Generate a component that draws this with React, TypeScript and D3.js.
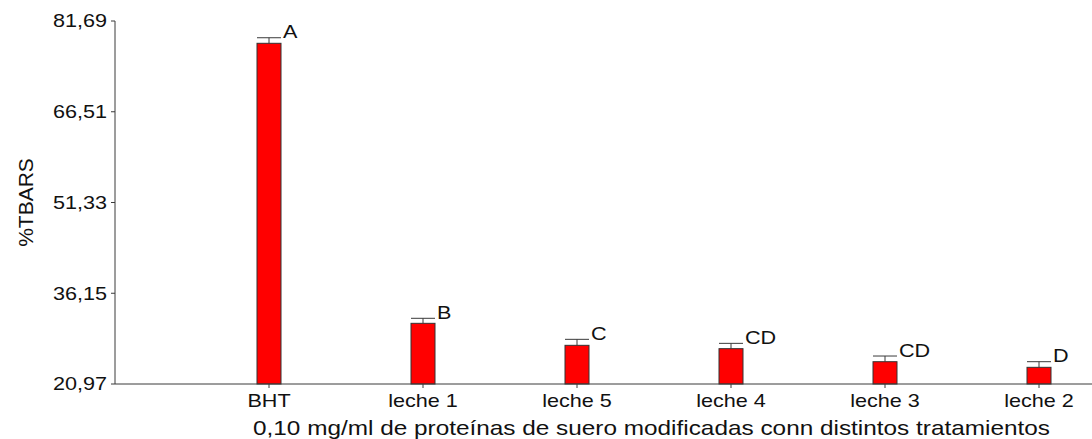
import React from "react";
import * as d3 from "d3";

const categories = ["BHT", "leche 1", "leche 5", "leche 4", "leche 3", "leche 2"];
const means = [77.96, 31.12, 27.44, 26.88, 24.7, 23.76];
const errors = [0.93, 0.84, 1.0, 0.89, 0.95, 0.94];
const letters = ["A", "B", "C", "CD", "CD", "D"];
const yTicks = [20.97, 36.15, 51.33, 66.51, 81.69];
const xTitle = "0,10 mg/ml de proteínas de suero modificadas conn distintos tratamientos";
const yTitle = "%TBARS";

const W = 1092;
const H = 439;
const m = { top: 21, left: 115, bottom: 384, right: 1092 };
const sx = 1.2; // picture is stretched sideways
const font = "'Liberation Sans', Arial, sans-serif";
const axisColor = "#3a3a3a";

const App: React.FC = () => {
  const y = d3.scaleLinear().domain([20.97, 81.69]).range([m.bottom, m.top]);
  const x = d3
    .scalePoint<string>()
    .domain(["", ...categories])
    .range([m.left, 1039]);
  const bw = 24;
  const fmt = (v: number) => v.toFixed(2).replace(".", ",");

  return (
    <svg
      width={W}
      height={H}
      style={{ position: "absolute", left: 0, top: 0, background: "#fff" }}
      fontFamily={font}
    >
      {/* bars + error bars */}
      {categories.map((c, i) => {
        const cx = x(c)!;
        const top = y(means[i]);
        const cap = y(means[i] + errors[i]);
        return (
          <g key={c}>
            <line x1={cx} x2={cx} y1={top} y2={cap} stroke={axisColor} strokeWidth={1} />
            <line x1={cx - bw / 2} x2={cx + bw / 2} y1={cap} y2={cap} stroke={axisColor} strokeWidth={1} />
            <rect
              x={cx - bw / 2}
              y={top}
              width={bw}
              height={m.bottom - top}
              fill="#ff0000"
              stroke="#333"
              strokeWidth={1}
            />
            <text
              transform={`translate(${cx + bw / 2 + 2},${cap + 0.5}) scale(${sx},1)`}
              fontSize={18}
              fill="#111"
            >
              {letters[i]}
            </text>
          </g>
        );
      })}

      {/* y axis */}
      <line x1={m.left} x2={m.left} y1={m.top} y2={m.bottom} stroke={axisColor} />
      {yTicks.map(t => (
        <g key={t}>
          <line x1={m.left - 4} x2={m.left} y1={y(t)} y2={y(t)} stroke={axisColor} />
          <text
            transform={`translate(${m.left - 8},${y(t)}) scale(${sx},1)`}
            dy="0.36em"
            textAnchor="end"
            fontSize={18}
            fill="#111"
          >
            {fmt(t)}
          </text>
        </g>
      ))}

      {/* x axis */}
      <line x1={m.left} x2={m.right} y1={m.bottom} y2={m.bottom} stroke={axisColor} />
      {categories.map(c => (
        <g key={c}>
          <line x1={x(c)} x2={x(c)} y1={m.bottom} y2={m.bottom + 4} stroke={axisColor} />
          <text
            transform={`translate(${x(c)},${m.bottom + 22.5}) scale(${sx},1)`}
            textAnchor="middle"
            fontSize={18}
            fill="#111"
          >
            {c}
          </text>
        </g>
      ))}

      <text
        x={253}
        y={435}
        fontSize={21}
        fill="#111"
        textLength={797}
        lengthAdjust="spacingAndGlyphs"
      >
        {xTitle}
      </text>
      <text
        transform={`translate(33,${(m.top + m.bottom) / 2}) rotate(-90)`}
        textAnchor="middle"
        fontSize={21}
        fill="#111"
      >
        {yTitle}
      </text>
    </svg>
  );
};

export default App;
